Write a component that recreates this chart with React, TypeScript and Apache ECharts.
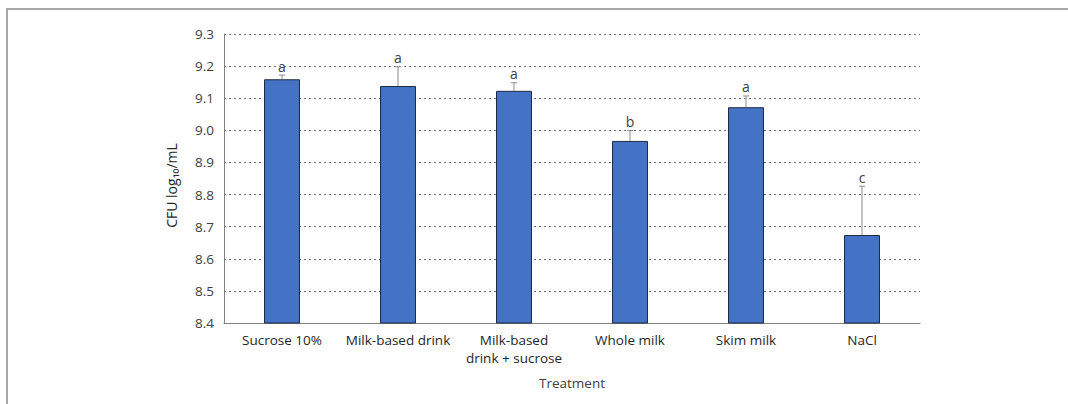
import React, { useEffect, useRef } from "react";
import * as echarts from "echarts";

const categories = [
  "Sucrose 10%",
  "Milk-based drink",
  "Milk-based\ndrink + sucrose",
  "Whole milk",
  "Skim milk",
  "NaCl",
];
const means = [9.159, 9.138, 9.123, 8.967, 9.072, 8.674];
const errors = [0.013, 0.06, 0.025, 0.032, 0.035, 0.152];
const letters = ["a", "a", "a", "b", "a", "c"];

const FONT = "'Open Sans', 'Noto Sans', sans-serif";

export default function App() {
  const ref = useRef<HTMLDivElement>(null);

  useEffect(() => {
    if (!ref.current) return;
    const chart = echarts.init(ref.current, undefined, { renderer: "svg" });
    const errData = means.map((m, i) => [i, m, m + errors[i]]);

    chart.setOption({
      animation: false,
      backgroundColor: "#ffffff",
      textStyle: { fontFamily: FONT },
      graphic: [
        {
          type: "rect",
          shape: { x: 7, y: 9, width: 1100, height: 420 },
          style: { fill: "none", stroke: "#a6a6a6", lineWidth: 2 },
          silent: true,
        },
      ],
      grid: { left: 224, right: 148, top: 34, bottom: 81 },
      xAxis: {
        type: "category",
        data: categories,
        name: "Treatment",
        nameLocation: "middle",
        nameGap: 53,
        nameTextStyle: { color: "#404040", fontSize: 13.5, fontFamily: FONT },
        axisLine: { lineStyle: { color: "#808080", width: 1 } },
        axisTick: { show: false },
        axisLabel: {
          color: "#262626",
          fontSize: 13.5,
          margin: 8,
          lineHeight: 18,
          fontFamily: FONT,
          interval: 0,
        },
      },
      yAxis: {
        type: "value",
        min: 8.4,
        max: 9.3,
        interval: 0.1,
        name: "CFU log₁₀/mL",
        nameLocation: "middle",
        nameGap: 46,
        nameTextStyle: {
          color: "#262626",
          fontSize: 14,
          fontFamily: FONT,
          padding: [0, 14, 0, 0],
        },
        axisLine: { show: true, lineStyle: { color: "#808080", width: 1 } },
        axisTick: { show: false },
        axisLabel: {
          color: "#404040",
          fontSize: 13.5,
          margin: 10,
          fontFamily: FONT,
          formatter: (v: number) => v.toFixed(1),
        },
        splitLine: {
          lineStyle: { color: "#707070", type: [2, 3], width: 1 },
        },
      },
      series: [
        {
          type: "bar",
          data: means,
          barWidth: "31%",
          itemStyle: { color: "#4472c4", borderColor: "#1f2a44", borderWidth: 1 },
          z: 2,
        },
        {
          type: "custom",
          data: errData,
          z: 3,
          renderItem: (params: any, api: any) => {
            const i = api.value(0);
            const base = api.coord([i, api.value(1)]);
            const top = api.coord([i, api.value(2)]);
            const x = base[0];
            return {
              type: "group",
              children: [
                {
                  type: "line",
                  shape: { x1: x, y1: base[1], x2: x, y2: top[1] },
                  style: { stroke: "#8c8c8c", lineWidth: 1 },
                },
                {
                  type: "line",
                  shape: { x1: x - 3, y1: top[1], x2: x + 3, y2: top[1] },
                  style: { stroke: "#8c8c8c", lineWidth: 1 },
                },
                {
                  type: "text",
                  x: x,
                  y: top[1] - 2,
                  style: {
                    text: letters[i],
                    fill: "#404040",
                    fontSize: 14,
                    fontFamily: FONT,
                    align: "center",
                    verticalAlign: "bottom",
                  },
                },
              ],
            };
          },
        },
      ],
    });

    return () => chart.dispose();
  }, []);

  return (
    <div
      ref={ref}
      style={{ position: "fixed", left: 0, top: 0, width: 1068, height: 404 }}
    />
  );
}
